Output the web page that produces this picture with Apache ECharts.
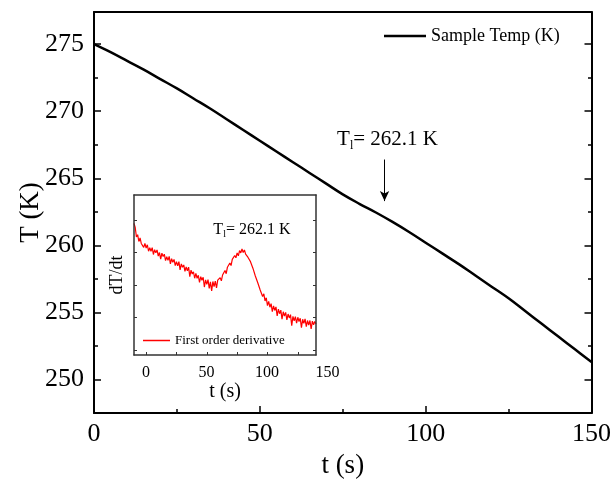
<!DOCTYPE html>
<html>
<head>
<meta charset="utf-8">
<script src="https://cdn.jsdelivr.net/npm/echarts@6/dist/echarts.min.js"></script>
<style>
html,body{margin:0;padding:0;background:#fff;}
#c{width:614px;height:485px;}
</style>
</head>
<body>
<div id="c"></div>
<script>
// Main curve: sample temperature (K) vs time (s)
var mainTime = [0,5,10,15,20,25,30,35,40,45,50,55,60,65,70,75,80,85,90,95,100,105,110,115,120,125,130,135,140,145,150];
var mainTemp = [275.0,274.4,273.75,273.1,272.4,271.7,270.95,270.2,269.4,268.6,267.8,267.0,266.2,265.4,264.6,263.8,263.1,262.45,261.75,261.0,260.2,259.4,258.6,257.75,256.9,256.05,255.1,254.15,253.2,252.25,251.3];

// Inset: first order derivative (arbitrary units), t = -10 ... 140 s
var insetTime = [];
for (var i = -10; i <= 140; i++) insetTime.push(i);
var insetDeriv = [
 3.90,3.77,3.48,3.55,3.34,3.45,3.28,3.33,3.16,3.28,
 3.14,3.24,3.04,3.15,3.04,3.15,2.94,3.09,2.99,3.08,
 2.89,3.00,2.80,2.98,2.88,2.95,2.75,2.87,2.76,2.88,
 2.65,2.81,2.70,2.79,2.60,2.72,2.59,2.72,2.47,2.65,
 2.55,2.62,2.42,2.56,2.44,2.55,2.26,2.46,2.34,2.41,
 2.21,2.36,2.21,2.30,2.08,2.26,2.15,2.24,1.94,2.16,
 2.02,2.17,1.90,2.10,1.82,2.11,1.95,2.12,1.91,2.15,
 2.09,2.23,2.13,2.31,2.26,2.45,2.35,2.55,2.51,2.68,
 2.60,2.79,2.73,2.91,2.84,2.99,2.90,3.06,2.99,3.11,
 3.00,3.08,2.95,3.00,2.85,2.89,2.72,2.73,2.52,2.51,
 2.28,2.29,2.07,2.09,1.85,1.89,1.65,1.73,1.51,1.61,
 1.37,1.50,1.32,1.43,1.18,1.36,1.22,1.33,1.05,1.26,
 1.12,1.23,0.95,1.18,1.05,1.16,0.93,1.11,0.99,1.09,
 0.75,1.04,0.90,1.03,0.83,1.01,0.88,0.98,0.69,0.95,
 0.82,0.96,0.72,0.91,0.77,0.91,0.65,0.89,0.78,0.88,
 0.80
];

var mainYTicks = [250,255,260,265,270,275];
var mainYMinor = [252.5,257.5,262.5,267.5,272.5];
var insetXTicks = [0,25,50,75,100,125];
var insetXLabels = [0,50,100,150];
var insetYTicks = [0,1,2,3,4];

var markTime = 87.6;
var markTemp = 262.1;

var FONT = "'Liberation Serif','Times New Roman',serif";

function zip(a,b){var r=[];for(var i=0;i<a.length;i++)r.push([a[i],b[i]]);return r;}
function mainLine(){return {show:true, onZero:false, lineStyle:{color:'#000', width:2}};}
function insetLine(){return {show:true, onZero:false, lineStyle:{color:'#333', width:1.5}};}
function noLine(){return {show:false, onZero:false};}
function tick(len, vals, c, w){var t={show:true, inside:true, length:len, lineStyle:{color:c, width:w}}; if(vals) t.customValues=vals.slice(); return t;}
function txt(size){return {fontSize:size, fontFamily:FONT, color:'#000'};}
function noSplit(){return {show:false};}
function noLabel(){return {show:false};}
function subRich(big, small, pad){
  return {a:{fontSize:big, fontFamily:FONT, color:'#000', lineHeight:big+3},
          b:{fontSize:small, fontFamily:FONT, color:'#000', lineHeight:small, verticalAlign:'bottom', padding:[pad,0,0,0]}};
}

var chart = echarts.init(document.getElementById('c'), null, {renderer:'canvas'});

var option = {
  backgroundColor:'#fff',
  animation:false,
  textStyle:{fontFamily:FONT, color:'#000'},
  grid:[
    {left:94, top:12, width:498, height:401},
    {left:134, top:195, width:182, height:160, show:true, backgroundColor:'#fff', borderWidth:0, z:1},
    {left:134, top:195, width:193.6, height:160, show:false},
    {left:94, top:12, width:498, height:401, show:false}
  ],
  legend:[
    {data:[{name:'Sample Temp (K)', icon:'rect'}], left:384, top:27, padding:0, itemWidth:42, itemHeight:2.5,
     textStyle:txt(18), itemGap:5},
    {data:[{name:'First order derivative', icon:'rect'}], left:143, top:334, padding:0, itemWidth:27, itemHeight:1.5,
     textStyle:txt(13), z:6}
  ],
  xAxis:[
    {gridIndex:0, type:'value', min:0, max:150, interval:50, position:'bottom',
     axisLine:mainLine(), axisTick:tick(7, null, '#000', 1.5),
     minorTick:{show:true, splitNumber:2, length:4, lineStyle:{color:'#000', width:1.5}},
     splitLine:noSplit(), minorSplitLine:noSplit(),
     axisLabel:{fontSize:26, fontFamily:FONT, color:'#000', margin:8},
     name:'t (s)', nameLocation:'middle', nameGap:39, nameMoveOverlap:false, nameTextStyle:txt(27)},
    {gridIndex:0, type:'value', min:0, max:150, position:'top',
     axisLine:mainLine(), axisTick:{show:false}, axisLabel:noLabel(), splitLine:noSplit()},
    {gridIndex:1, type:'value', min:-10, max:140, position:'bottom', z:5,
     axisLine:insetLine(), axisTick:tick(3, insetXTicks, '#333', 1),
     axisLabel:noLabel(), splitLine:noSplit(),
     name:'t (s)', nameLocation:'middle', nameGap:27, nameMoveOverlap:false, nameTextStyle:txt(20)},
    {gridIndex:1, type:'value', min:-10, max:140, position:'top', z:5,
     axisLine:insetLine(), axisTick:{show:false}, axisLabel:noLabel(), splitLine:noSplit()},
    {gridIndex:2, type:'value', min:-10, max:150, position:'bottom', z:5,
     axisLine:noLine(), axisTick:{show:false}, splitLine:noSplit(),
     axisLabel:{show:true, customValues:insetXLabels.slice(), fontSize:16, fontFamily:FONT, color:'#000', margin:10}},
    {gridIndex:3, type:'value', min:0, max:150, show:false}
  ],
  yAxis:[
    {gridIndex:0, type:'value', min:247.5, max:277.4, position:'left',
     axisLine:mainLine(), axisTick:tick(7, mainYTicks, '#000', 1.5),
     axisLabel:{show:true, customValues:mainYTicks.slice(), fontSize:26, fontFamily:FONT, color:'#000', margin:10},
     splitLine:noSplit(),
     name:'T (K)', nameLocation:'middle', nameGap:50, nameMoveOverlap:false, nameTextStyle:txt(27)},
    {gridIndex:0, type:'value', min:247.5, max:277.4, position:'right',
     axisLine:mainLine(), axisTick:tick(7, mainYTicks, '#000', 1.5),
     axisLabel:noLabel(), splitLine:noSplit()},
    {gridIndex:3, type:'value', min:247.5, max:277.4, position:'left',
     axisLine:noLine(), axisTick:tick(4, mainYMinor, '#000', 1.5),
     axisLabel:noLabel(), splitLine:noSplit()},
    {gridIndex:3, type:'value', min:247.5, max:277.4, position:'right',
     axisLine:noLine(), axisTick:tick(4, mainYMinor, '#000', 1.5),
     axisLabel:noLabel(), splitLine:noSplit()},
    {gridIndex:1, type:'value', min:-0.15, max:4.77, position:'left', z:5,
     axisLine:insetLine(), axisTick:tick(3, insetYTicks, '#333', 1),
     axisLabel:noLabel(), splitLine:noSplit(),
     name:'dT/dt', nameLocation:'middle', nameGap:8, nameMoveOverlap:false, nameTextStyle:txt(18)},
    {gridIndex:1, type:'value', min:-0.15, max:4.77, position:'right', z:5,
     axisLine:insetLine(), axisTick:tick(3, insetYTicks, '#333', 1),
     axisLabel:noLabel(), splitLine:noSplit()},
    {gridIndex:2, type:'value', min:0, max:1, show:false}
  ],
  series:[
    {name:'Sample Temp (K)', type:'line', xAxisIndex:0, yAxisIndex:0, data:zip(mainTime, mainTemp),
     showSymbol:false, smooth:0.4, lineStyle:{color:'#000', width:2.5}, itemStyle:{color:'#000'}, z:2,
     markLine:{silent:true, symbol:['none','arrow'], symbolSize:[7,10], label:{show:false},
       lineStyle:{color:'#000', width:1, type:'solid'},
       data:[[{coord:[markTime, 266.4]},{coord:[markTime, 263.3]}]]},
     markPoint:{silent:true, symbol:'circle', symbolSize:0,
       label:{show:true, position:'inside', formatter:'{a|T}{b|l}{a|= 262.1 K}', rich:subRich(21, 12, 11)},
       data:[{coord:[88.5, 267.9], value:markTemp}]}
    },
    {name:'First order derivative', type:'line', xAxisIndex:2, yAxisIndex:4, data:zip(insetTime, insetDeriv),
     showSymbol:false, lineStyle:{color:'#ff0000', width:1.2}, itemStyle:{color:'#ff0000'}, z:4,
     markPoint:{silent:true, symbol:'circle', symbolSize:0,
       label:{show:true, position:'inside', formatter:'{a|T}{b|l}{a|= 262.1 K}', rich:subRich(16, 10, 8)},
       data:[{coord:[87.2, 3.69], value:markTemp}]}
    }
  ]
};
chart.setOption(option);
</script>
</body>
</html>
